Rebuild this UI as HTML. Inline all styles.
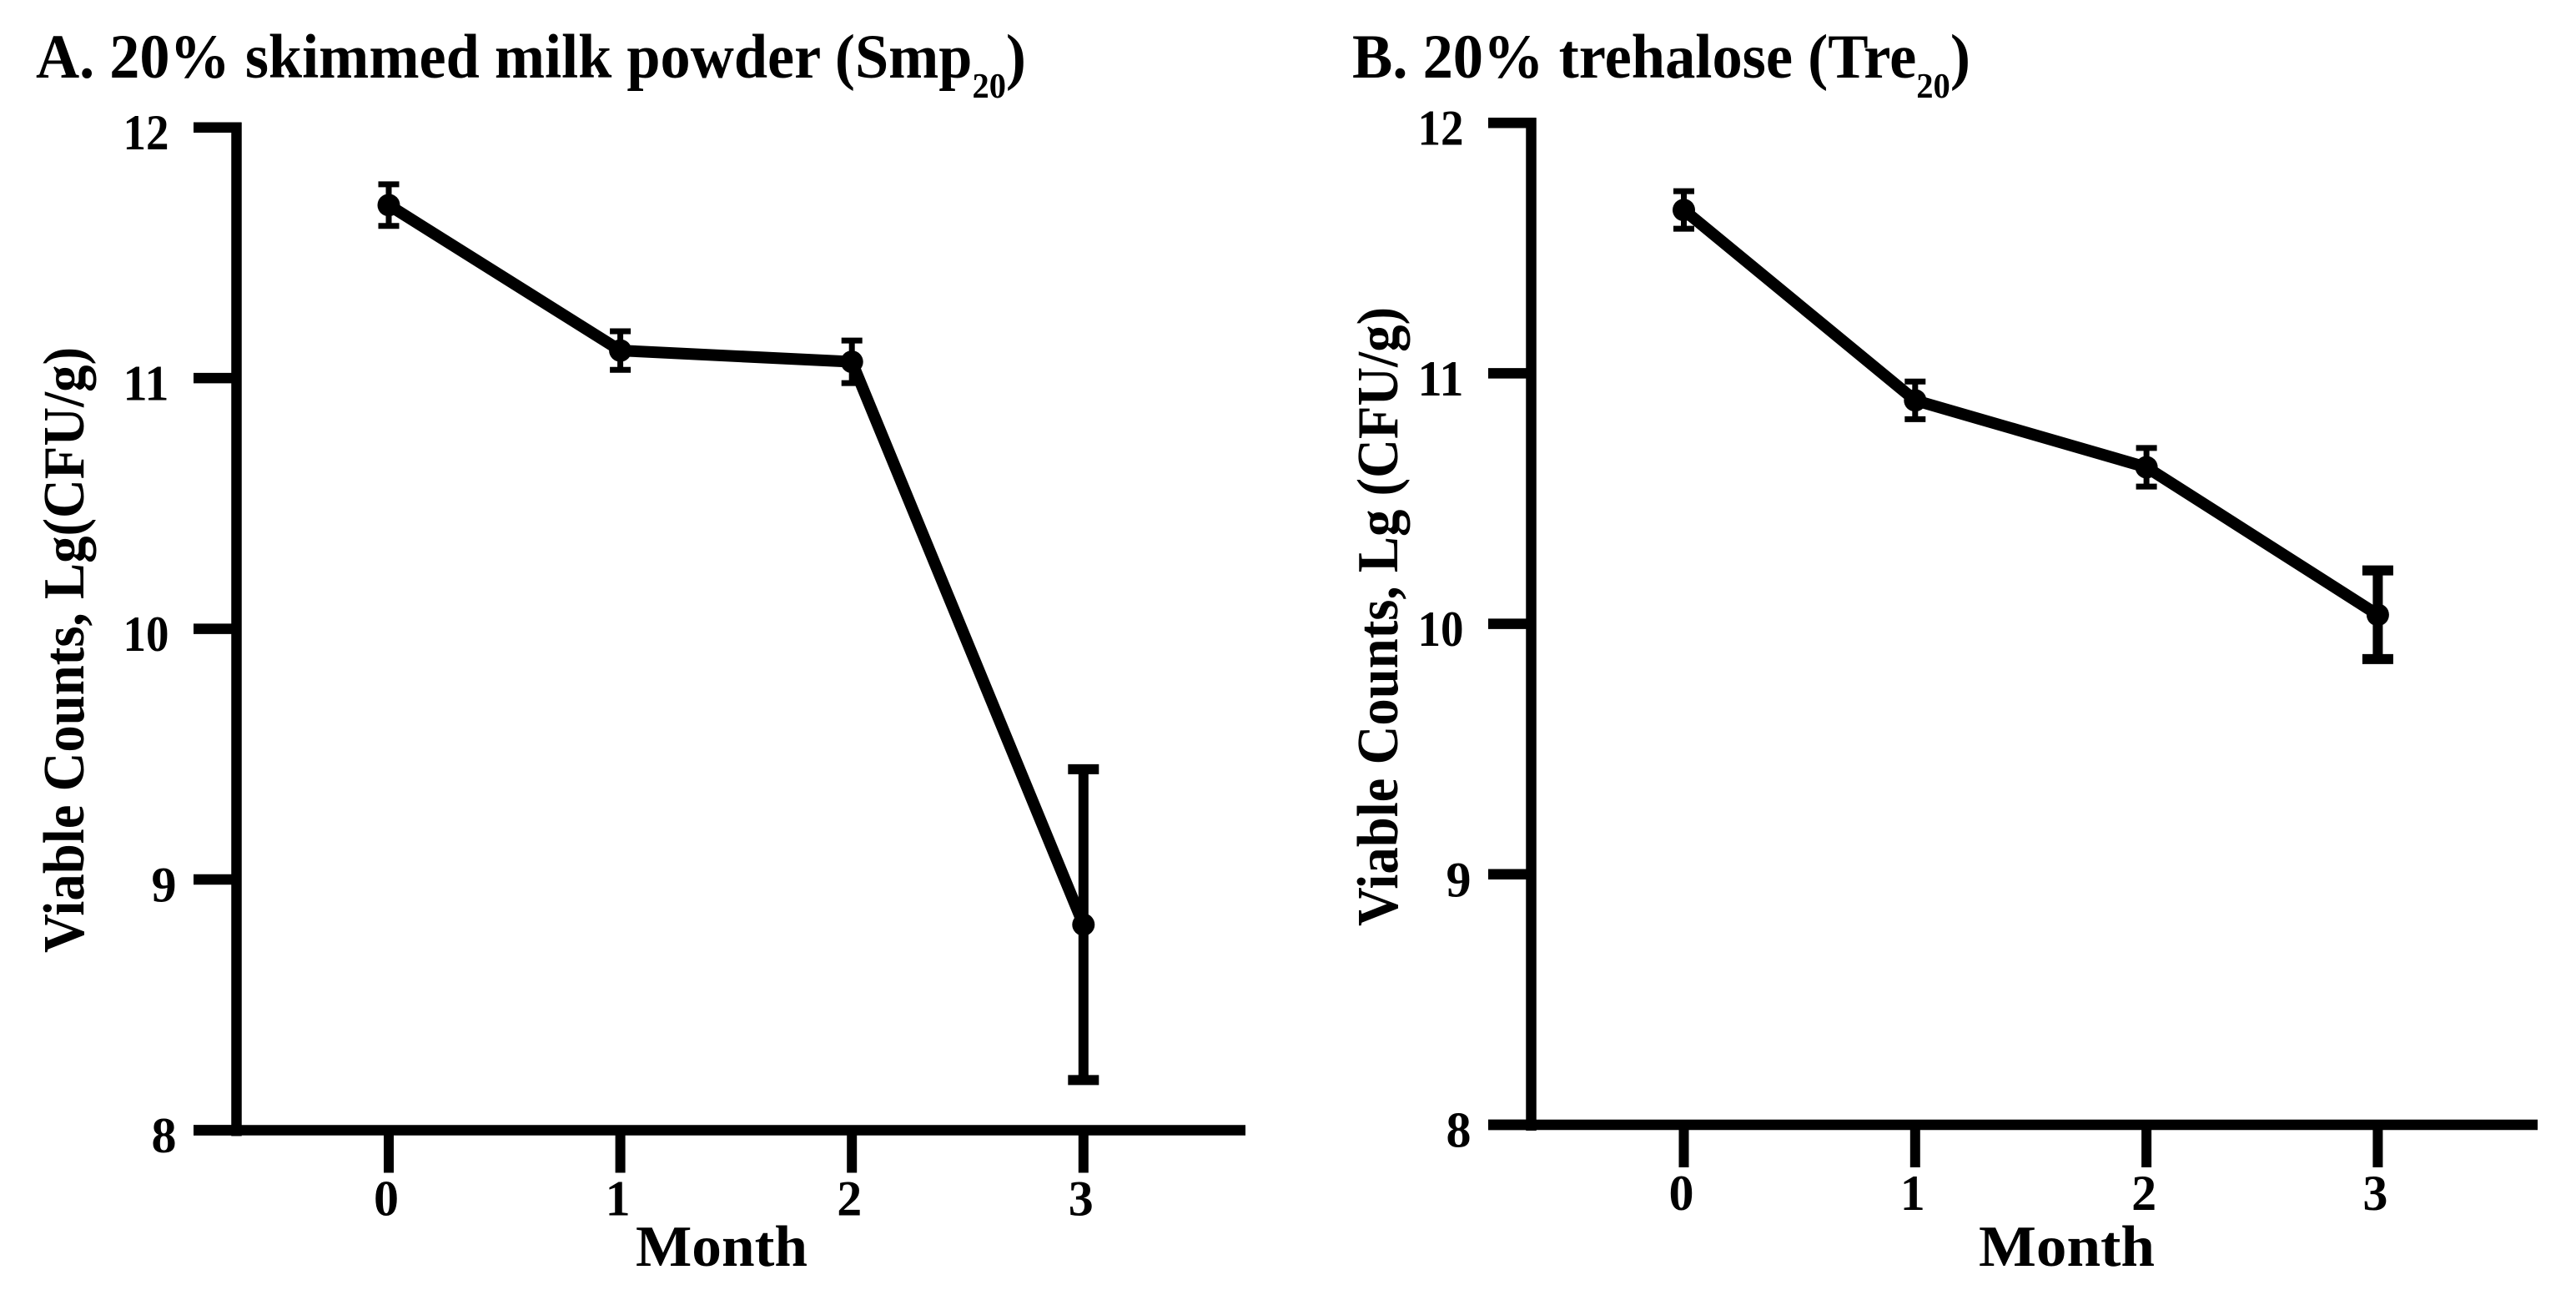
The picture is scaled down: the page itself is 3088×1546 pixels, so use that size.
<!DOCTYPE html>
<html lang="en">
<head>
<meta charset="utf-8">
<title>Viable counts over storage months</title>
<style>
html,body{margin:0;padding:0;background:#fff;}
svg{display:block;}
text{font-family:"Liberation Serif","Times New Roman",serif;font-weight:bold;fill:#000;}
</style>
</head>
<body>
<svg id="figure" xmlns="http://www.w3.org/2000/svg" width="3088" height="1546" viewBox="0 0 3088 1546">
  <rect width="3088" height="1546" fill="#fff"/>
  <text x="43" y="93" font-size="75" textLength="1187" lengthAdjust="spacingAndGlyphs">A. 20% skimmed milk powder (Smp<tspan font-size="42" dy="24">20</tspan><tspan dy="-24">)</tspan></text>
  <text x="1621" y="93" font-size="75" textLength="741" lengthAdjust="spacingAndGlyphs">B. 20% trehalose (Tre<tspan font-size="42" dy="24">20</tspan><tspan dy="-24">)</tspan></text>
  <text transform="translate(100 1142) rotate(-90)" font-size="70" textLength="726" lengthAdjust="spacingAndGlyphs">Viable Counts, Lg(CFU/g)</text>
  <text transform="translate(1675 1110) rotate(-90)" font-size="70" textLength="742" lengthAdjust="spacingAndGlyphs">Viable Counts, Lg (CFU/g)</text>
  <text x="762" y="1517" font-size="70" textLength="206" lengthAdjust="spacingAndGlyphs">Month</text>
  <text x="2372" y="1517" font-size="70" textLength="211" lengthAdjust="spacingAndGlyphs">Month</text>
  <g id="panel-a"></g>
  <g id="panel-b"></g>
</svg>
<script>
const months = [0, 1, 2, 3];
const yTickValues = [8, 9, 10, 11, 12];
const smpMeans = [11.69, 11.11, 11.065, 8.82];
const smpErrors = [0.083, 0.077, 0.085, 0.62];
const treMeans = [11.652, 10.892, 10.625, 10.036];
const treErrors = [0.075, 0.075, 0.077, 0.177];

const NS = 'http://www.w3.org/2000/svg';

function make(parent, tag, props) {
  const el = document.createElementNS(NS, tag);
  for (const k in props) el.setAttribute(k, props[k]);
  parent.appendChild(el);
  return el;
}

function drawPanel(root, means, errors, box) {
  const xScale = m => box.x0 + (m - months[0]) * box.xStep;
  const yScale = v => box.yBottom - (v - yTickValues[0]) * box.yStep;
  const axisW = 12.5;

  yTickValues.forEach(v => {
    const tick = make(root, 'line', {x1: box.axisX - 51.5, x2: box.axisX + 6, y1: yScale(v), y2: yScale(v), stroke: '#000', 'stroke-width': axisW});
    
    
    const labelText = String(v);
    const twoDigits = labelText.length > 1;
    const labelX = twoDigits ? box.axisX - 136 : box.axisX - 72;
    const label = make(root, 'text', {x: labelX, y: yScale(v) + 26.5, 'font-size': 60, 'text-anchor': twoDigits ? 'start' : 'end'});
    if (twoDigits) {
      label.setAttribute('textLength', 55);
      label.setAttribute('lengthAdjust', 'spacingAndGlyphs');
    }
    label.textContent = labelText;
    
    
  });

  const yAxis = make(root, 'line', {x1: box.axisX, x2: box.axisX, y1: yScale(yTickValues[yTickValues.length - 1]) - 6, y2: yScale(yTickValues[0]) + 7, stroke: '#000', 'stroke-width': axisW});
  
  

  const xAxis = make(root, 'line', {x1: box.axisX - 51.5, x2: box.xEnd, y1: box.yBottom, y2: box.yBottom, stroke: '#000', 'stroke-width': axisW});
  
  

  months.forEach(m => {
    const tick = make(root, 'line', {x1: xScale(m), x2: xScale(m), y1: box.yBottom, y2: box.yBottom + 51, stroke: '#000', 'stroke-width': 12});
    
    
    const label = make(root, 'text', {x: xScale(m) - 3, y: box.yBottom + 102, 'font-size': 60, 'text-anchor': 'middle'});
    label.textContent = String(m);
    
    
  });

  const points = means.map((v, i) => xScale(months[i]) + ',' + yScale(v)).join(' ');
  const line = make(root, 'polyline', {points: points, fill: 'none', stroke: '#000', 'stroke-width': 14, 'stroke-linejoin': 'round'});
  
  

  means.forEach((v, i) => {
    const x = xScale(months[i]);
    const last = i === means.length - 1;
    const stemW = last ? 12 : 7;
    const capW = last ? 37 : 25;
    const capH = last ? 12 : 7;
    const top = yScale(v + errors[i]);
    const bottom = yScale(v - errors[i]);
    const stem = make(root, 'line', {x1: x, x2: x, y1: top, y2: bottom, stroke: '#000', 'stroke-width': stemW});
    
    
    const capTop = make(root, 'line', {x1: x - capW / 2, x2: x + capW / 2, y1: top, y2: top, stroke: '#000', 'stroke-width': capH});
    
    
    const capBottom = make(root, 'line', {x1: x - capW / 2, x2: x + capW / 2, y1: bottom, y2: bottom, stroke: '#000', 'stroke-width': capH});
    
    
    const dot = make(root, 'circle', {cx: x, cy: yScale(v), r: 13.5, fill: '#000'});
    
    
  });
}

drawPanel(document.getElementById('panel-a'), smpMeans, smpErrors, {axisX: 283.5, x0: 466, xStep: 277.6, xEnd: 1493, yBottom: 1354.5, yStep: 300.45});
drawPanel(document.getElementById('panel-b'), treMeans, treErrors, {axisX: 1835.5, x0: 2018.5, xStep: 277.3, xEnd: 3042, yBottom: 1348, yStep: 300.2});
</script>
</body>
</html>
